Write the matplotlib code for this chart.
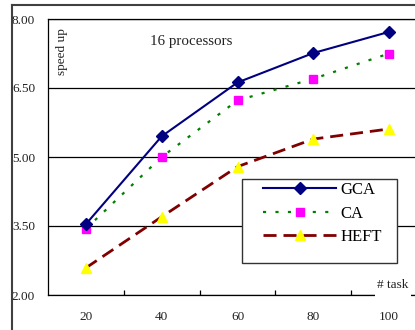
import numpy as np
import matplotlib.pyplot as plt
from matplotlib.patches import Rectangle
from matplotlib.lines import Line2D

plt.rcParams['font.family'] = ['Liberation Serif', 'DejaVu Serif']

# data
tasks = ['20', '40', '60', '80', '100']
gca = [3.54, 5.45, 6.62, 7.26, 7.72]
ca = [3.44, 5.00, 6.23, 6.70, 7.25]
heft = [2.59, 3.70, 4.79, 5.39, 5.61]
yticks = [2.00, 3.50, 5.00, 6.50, 8.00]

W, H = 415, 330
fig = plt.figure(figsize=(W / 100, H / 100), dpi=100)

# plot area runs past the right edge of the picture, like the original
ax = fig.add_axes([48 / W, 1 - 295 / H, (427 - 48) / W, (295 - 19) / H])
x = np.arange(len(tasks))

ax.plot(x, gca, color='#000080', lw=1.5, marker='D', ms=6.5,
        mfc='#000080', mec='#000080', label='GCA', zorder=4)
ax.plot(x, ca, color='#008000', lw=1.6, ls=(0, (1.4, 4.2)), marker='s', ms=6,
        mfc='#FF00FF', mec='#FF00FF', label='CA', zorder=3)
ax.plot(x, heft, color='#800000', lw=2.0, ls=(0, (4.7, 2.5)), marker='^', ms=7.5,
        mfc='#FFFF00', mec='#FFFF00', label='HEFT', zorder=3)

ax.set_xlim(-0.5, len(tasks) - 0.5)
ax.set_ylim(2, 8)
ax.set_yticks(yticks)
ax.set_yticklabels(['%.2f' % v for v in yticks], fontsize=9.5, color='#222222')
ax.tick_params(axis='y', length=0, pad=9.3)
ax.set_xticks(x)
ax.set_xticklabels(tasks, fontsize=9.5, color='#222222')
ax.tick_params(axis='x', which='major', length=0, pad=11.2)
ax.set_xticks(x[:-1] + 0.5, minor=True)
ax.tick_params(axis='x', which='minor', direction='in', length=3.6, width=0.9)

ax.grid(axis='y', color='black', lw=0.9)
ax.set_axisbelow(True)
for s in ['left', 'bottom', 'top']:
    ax.spines[s].set_linewidth(0.9)
ax.spines['right'].set_visible(False)

ax.text(62 / W, 1 - 52 / H, 'speed up', transform=fig.transFigure,
        rotation=90, ha='center', va='center', fontsize=9.5, color='#222222')
ax.text(191 / W, 1 - 42 / H, '16 processors', transform=fig.transFigure,
        ha='center', va='center', fontsize=10.8, color='#222222')

# white gap in the x axis behind "# task"
fig.add_artist(Rectangle((375 / W, 1 - 298 / H), 36 / W, 22 / H,
                         transform=fig.transFigure, fc='white', ec='none', zorder=5))
fig.text(393 / W, 1 - 285 / H, '# task', ha='center', va='center',
         fontsize=9.5, color='#222222', zorder=6)

# legend box
fig.add_artist(Rectangle((242 / W, 1 - 263 / H), (397 - 242) / W, (263 - 179) / H,
                         transform=fig.transFigure, fc='white', ec='#333333',
                         lw=1.0, zorder=5))
leg = ax.legend(loc='upper left', bbox_to_anchor=(263 / W, 1 - 182 / H),
                bbox_transform=fig.transFigure, frameon=False, fontsize=12,
                borderpad=0, borderaxespad=0, handlelength=4.4,
                handletextpad=0.25, labelspacing=0.45)
leg.set_zorder(6)
fig.add_artist(leg)

# outer frame of the original figure
fig.add_artist(Line2D([12 / W, 12 / W], [0, 1 - 4.5 / H], transform=fig.transFigure,
                      color='#404040', lw=1.5))
fig.add_artist(Line2D([12 / W, 1], [1 - 4.5 / H, 1 - 4.5 / H], transform=fig.transFigure,
                      color='#404040', lw=1.5))

fig.savefig('out.png', dpi=100)
